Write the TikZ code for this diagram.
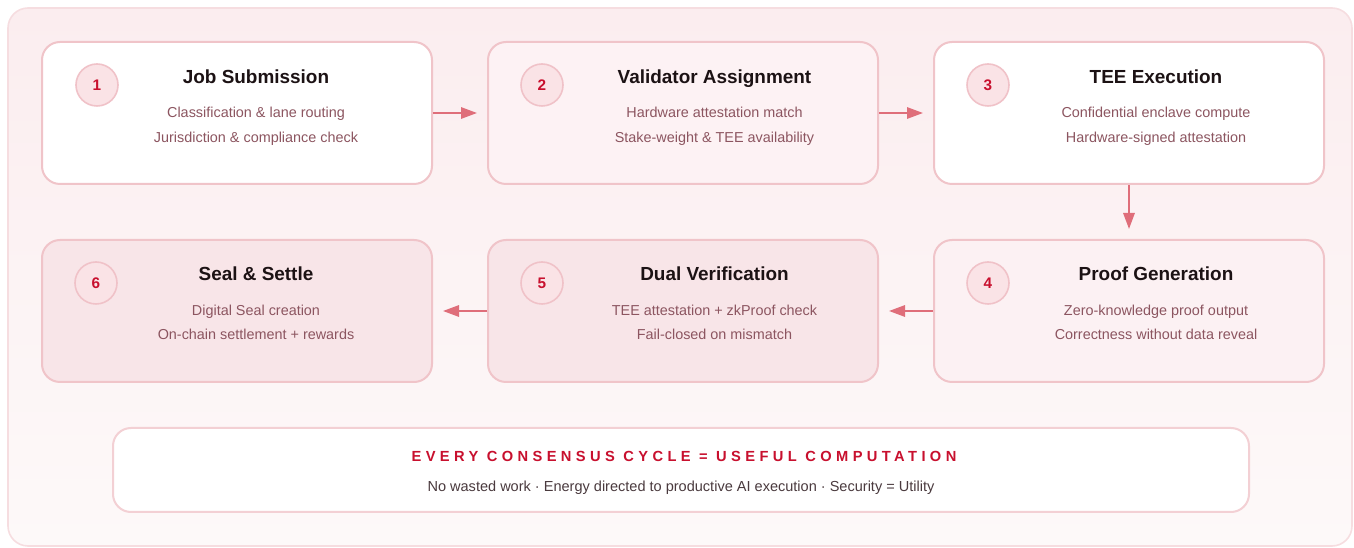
\documentclass[tikz,border=0pt]{standalone}
\usepackage{fontspec}
\setmainfont{Liberation Sans}
\usetikzlibrary{arrows.meta,shapes.geometric}
\definecolor{panelTop}{HTML}{FBEDEF}
\definecolor{panelBot}{HTML}{FDF9F9}
\definecolor{panelLine}{HTML}{F6DDE0}
\definecolor{boxLine}{HTML}{F0C4C9}
\definecolor{arrowCol}{HTML}{DF6E7A}
\definecolor{titleCol}{HTML}{1C1214}
\definecolor{subCol}{HTML}{8C5560}
\definecolor{numCol}{HTML}{C8102E}
\definecolor{badgeFill}{HTML}{FAE3E6}
\definecolor{badgeLine}{HTML}{F0C2C8}
\definecolor{fillA}{HTML}{FFFFFF}
\definecolor{fillB}{HTML}{FDF2F4}
\definecolor{fillC}{HTML}{FCF1F3}
\definecolor{fillD}{HTML}{F8E5E8}
\definecolor{footCol}{HTML}{4A3A3E}
\tikzset{
  stepbox/.style={draw=boxLine, line width=1.5pt, rounded corners=13.5pt,
    minimum width=292.5pt, minimum height=106.5pt, inner sep=0pt},
  badge/.style={circle, draw=badgeLine, fill=badgeFill, line width=1.2pt,
    minimum size=31.5pt, inner sep=0pt, text=numCol,
    font=\fontsize{11.5}{13}\selectfont\bfseries},
  ttl/.style={anchor=base, text=titleCol, font=\fontsize{14.2}{17}\selectfont\bfseries, inner sep=0pt},
  sub/.style={anchor=base, text=subCol, font=\fontsize{10.8}{13}\selectfont, inner sep=0pt},
  flow/.style={draw=arrowCol, line width=1.5pt, shorten >=7.5pt,
    -{Triangle[length=12pt,width=8.5pt]}},
}
\begin{document}
\begin{tikzpicture}[x=0.75pt,y=-0.75pt]
\useasboundingbox (0,0) rectangle (1354,548);
% outer panel
\shade[top color=panelTop, bottom color=panelBot, rounded corners=15pt]
  (8,8) rectangle (1352,546);
\draw[panelLine, line width=1.2pt, rounded corners=15pt] (8,8) rectangle (1352,546);

% boxes
\node[stepbox, fill=fillA] (b1) at (237,113) {};
\node[stepbox, fill=fillB] (b2) at (683,113) {};
\node[stepbox, fill=fillA] (b3) at (1129,113) {};
\node[stepbox, fill=fillC] (b4) at (1129,311) {};
\node[stepbox, fill=fillD] (b5) at (683,311) {};
\node[stepbox, fill=fillD] (b6) at (237,311) {};

% badges
\node[badge] (n1) at (97,85) {1};
\node[badge] (n2) at (542,85) {2};
\node[badge] (n3) at (988,85) {3};
\node[badge] (n4) at (988,283) {4};
\node[badge] (n5) at (542,283) {5};
\node[badge] (n6) at (96,283) {6};

% texts row 1
\node[ttl] (t1) at (256,84) {Job Submission};
\node[sub] (s1a) at (256,117.5) {Classification \& lane routing};
\node[sub] (s1b) at (256,143) {Jurisdiction \& compliance check};
\node[ttl] (t2) at (714.5,84) {Validator Assignment};
\node[sub] (s2a) at (714.5,117.5) {Hardware attestation match};
\node[sub] (s2b) at (714.5,143) {Stake-weight \& TEE availability};
\node[ttl] (t3) at (1156,84) {TEE Execution};
\node[sub] (s3a) at (1156,117.5) {Confidential enclave compute};
\node[sub] (s3b) at (1156,143) {Hardware-signed attestation};
% texts row 2
\node[ttl] (t4) at (1156,281) {Proof Generation};
\node[sub] (s4a) at (1156,315.5) {Zero-knowledge proof output};
\node[sub] (s4b) at (1156,340) {Correctness without data reveal};
\node[ttl] (t5) at (714.5,281) {Dual Verification};
\node[sub] (s5a) at (714.5,315.5) {TEE attestation + zkProof check};
\node[sub] (s5b) at (714.5,340) {Fail-closed on mismatch};
\node[ttl] (t6) at (256,281) {Seal \& Settle};
\node[sub] (s6a) at (256,315.5) {Digital Seal creation};
\node[sub] (s6b) at (256,340) {On-chain settlement + rewards};

% arrows
\draw[flow] (b1.east) -- (b2.west);
\draw[flow] (b2.east) -- (b3.west);
\draw[flow] (b3.south) -- (b4.north);
\draw[flow] (b4.west) -- (b5.east);
\draw[flow] (b5.west) -- (b6.east);

% footer box
\node[draw=boxLine!80, fill=white, line width=1.5pt, rounded corners=13.5pt,
  minimum width=852pt, minimum height=63pt] (foot) at (681,470) {};
\node[anchor=base, text=numCol, inner sep=0pt,
  font=\fontsize{11}{12}\selectfont\bfseries\addfontfeature{LetterSpace=30}] (ft) at (684,462)
  {EVERY CONSENSUS CYCLE = USEFUL COMPUTATION};
\node[anchor=base, text=footCol, inner sep=0pt, font=\fontsize{10.9}{12}\selectfont] (fs) at (681,492)
  {No wasted work · Energy directed to productive AI execution · Security = Utility};
\end{tikzpicture}
\end{document}
